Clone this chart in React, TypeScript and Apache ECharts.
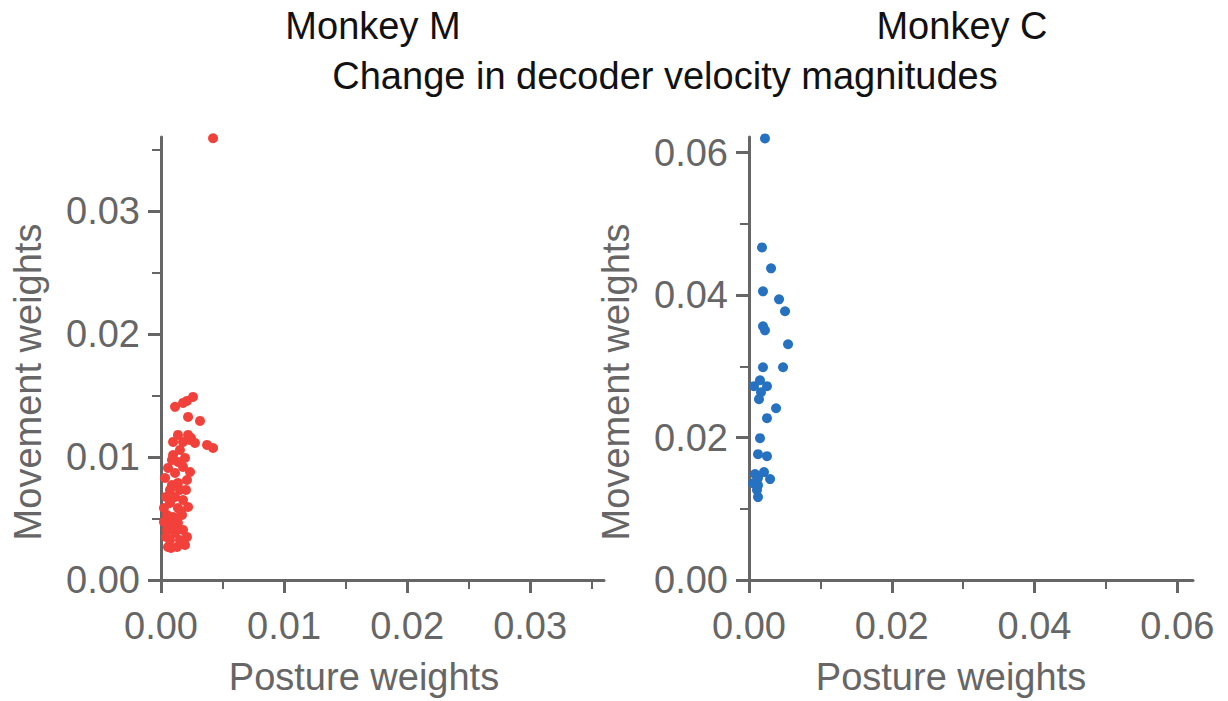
import React, { useEffect, useRef } from "react";
import * as echarts from "echarts";

// Monkey M (left panel)
const monkeyMPosture = [
  0.0026, 0.00211, 0.00179, 0.00114, 0.0022, 0.00317, 0.00138, 0.0022, 0.00098, 0.00179,
  0.00276, 0.00374, 0.00423, 0.00154, 0.00098, 0.00089, 0.00057, 0.00179, 0.00114, 0.00211,
  0.00138, 0.00073, 0.00154, 0.00114, 0.00073, 0.00179, 0.0022, 0.00138, 0.00049, 0.00098,
  0.00171, 0.00073, 0.00138, 0.00049, 0.00179, 0.00114, 0.00211, 0.00073, 0.00154, 0.00057,
  0.0013, 0.00033, 0.00236, 0.00195, 0.00041, 0.00203, 0.00024, 0.00122, 0.00041, 0.00195,
  0.00089, 0.00138, 0.00244, 0.00163, 0.00081, 0.00024, 0.00236, 0.00423,
];
const monkeyMMovement = [
  0.01488, 0.01455, 0.01439, 0.01407, 0.01325, 0.01293, 0.01179, 0.01179, 0.01122, 0.01122,
  0.01114, 0.01098, 0.01073, 0.01057, 0.01016, 0.00976, 0.00911, 0.00919, 0.0087, 0.00813,
  0.00789, 0.00732, 0.00732, 0.00675, 0.00626, 0.0065, 0.00593, 0.00585, 0.00528, 0.00512,
  0.00528, 0.00463, 0.00463, 0.00407, 0.00407, 0.00382, 0.0035, 0.00325, 0.00325, 0.00268,
  0.00268, 0.00829, 0.00878, 0.00992, 0.00675, 0.00732, 0.00585, 0.00423, 0.0035, 0.00285,
  0.00772, 0.00959, 0.01154, 0.00553, 0.0026, 0.00472, 0.01138, 0.0359,
];

// Monkey C (right panel)
const monkeyCPosture = [
  0.00224, 0.00182, 0.00309, 0.00196, 0.00421, 0.00505, 0.00196, 0.00224, 0.00547, 0.00196,
  0.00477, 0.00154, 0.0007, 0.00252, 0.00168, 0.0014, 0.00379, 0.00252, 0.00154, 0.00126,
  0.00252, 0.00084, 0.0021, 0.00295, 0.00126, 0.00056, 0.00126, 0.00112, 0.00126,
];
const monkeyCMovement = [
  0.062, 0.0467, 0.04376, 0.04053, 0.03941, 0.03773, 0.03562, 0.03506, 0.0331, 0.02987,
  0.02987, 0.02805, 0.02721, 0.02721, 0.02637, 0.02539, 0.02412, 0.02272, 0.01992, 0.01767,
  0.01739, 0.01487, 0.01515, 0.01417, 0.01431, 0.0136, 0.01332, 0.01262, 0.01164,
];

const leftMajorTicks = [0, 0.01, 0.02, 0.03];
const leftMinorTicks = [0.005, 0.015, 0.025, 0.035];
const rightMajorTicks = [0, 0.02, 0.04, 0.06];
const rightMinorTicks = [0.01, 0.03, 0.05];

const panelTitles = ["Monkey M", "Monkey C"];
const mainTitle = "Change in decoder velocity magnitudes";
const xName = "Posture weights";
const yName = "Movement weights";

const FONT = "'Liberation Sans', Arial, sans-serif";
const AXIS_COLOR = "#666666";
const LABEL_COLOR = "#666666";
const FS = 38;

function majorAxis(gridIndex: number, max: number, ticks: number[], isX: boolean) {
  return {
    type: "value",
    gridIndex,
    min: 0,
    max,
    position: isX ? "bottom" : "left",
    splitLine: { show: false },
    axisLine: { show: true, lineStyle: { color: AXIS_COLOR, width: 3 } },
    axisTick: { show: true, customValues: ticks, length: 13, lineStyle: { color: AXIS_COLOR, width: 3 } },
    axisLabel: {
      show: true,
      customValues: ticks,
      margin: isX ? 27 : 21,
      fontSize: FS,
      fontFamily: FONT,
      color: LABEL_COLOR,
      formatter: (v: number) => v.toFixed(2),
    },
  };
}

function minorAxis(gridIndex: number, max: number, ticks: number[], isX: boolean) {
  return {
    type: "value",
    gridIndex,
    min: 0,
    max,
    position: isX ? "bottom" : "left",
    splitLine: { show: false },
    axisLine: { show: false },
    axisTick: { show: true, customValues: ticks, length: 9, lineStyle: { color: AXIS_COLOR, width: 2 } },
    axisLabel: { show: false },
  };
}

export default function App() {
  const ref = useRef<HTMLDivElement>(null);
  useEffect(() => {
    if (!ref.current) return;
    const chart = echarts.init(ref.current, undefined, { renderer: "svg" });
    const leftMax = 0.036;
    const rightMax = 0.0622;
    const textStyle = (text: string, x: number, y: number, color: string, rotation = 0) => ({
      type: "text",
      x,
      y,
      rotation,
      style: {
        text,
        fontSize: FS,
        fontFamily: FONT,
        fill: color,
        align: "center",
        verticalAlign: "middle",
      },
    });
    chart.setOption({
      animation: false,
      backgroundColor: "#ffffff",
      grid: [
        { left: 161, top: 137, width: 443, height: 443 },
        { left: 749, top: 137, width: 444, height: 443 },
      ],
      xAxis: [
        majorAxis(0, leftMax, leftMajorTicks, true),
        minorAxis(0, leftMax, leftMinorTicks, true),
        majorAxis(1, rightMax, rightMajorTicks, true),
        minorAxis(1, rightMax, rightMinorTicks, true),
      ],
      yAxis: [
        majorAxis(0, leftMax, leftMajorTicks, false),
        minorAxis(0, leftMax, leftMinorTicks, false),
        majorAxis(1, rightMax, rightMajorTicks, false),
        minorAxis(1, rightMax, rightMinorTicks, false),
      ],
      series: [
        {
          type: "scatter",
          xAxisIndex: 0,
          yAxisIndex: 0,
          symbolSize: 10,
          clip: false,
          itemStyle: { color: "#f2413a", opacity: 1 },
          data: monkeyMPosture.map((x, i) => [x, monkeyMMovement[i]]),
        },
        {
          type: "scatter",
          xAxisIndex: 2,
          yAxisIndex: 2,
          symbolSize: 10,
          clip: false,
          itemStyle: { color: "#2672c1", opacity: 1 },
          data: monkeyCPosture.map((x, i) => [x, monkeyCMovement[i]]),
        },
      ],
      graphic: [
        textStyle(panelTitles[0], 373, 26, "#111111"),
        textStyle(panelTitles[1], 962, 26, "#111111"),
        textStyle(mainTitle, 665, 76, "#111111"),
        textStyle(xName, 364, 677, LABEL_COLOR),
        textStyle(xName, 951, 677, LABEL_COLOR),
        textStyle(yName, 28, 382, LABEL_COLOR, Math.PI / 2),
        textStyle(yName, 616, 382, LABEL_COLOR, Math.PI / 2),
      ],
    });
    return () => chart.dispose();
  }, []);
  return (
    <div
      ref={ref}
      style={{ position: "fixed", left: 0, top: 0, width: 1228, height: 701, background: "#fff" }}
    />
  );
}
